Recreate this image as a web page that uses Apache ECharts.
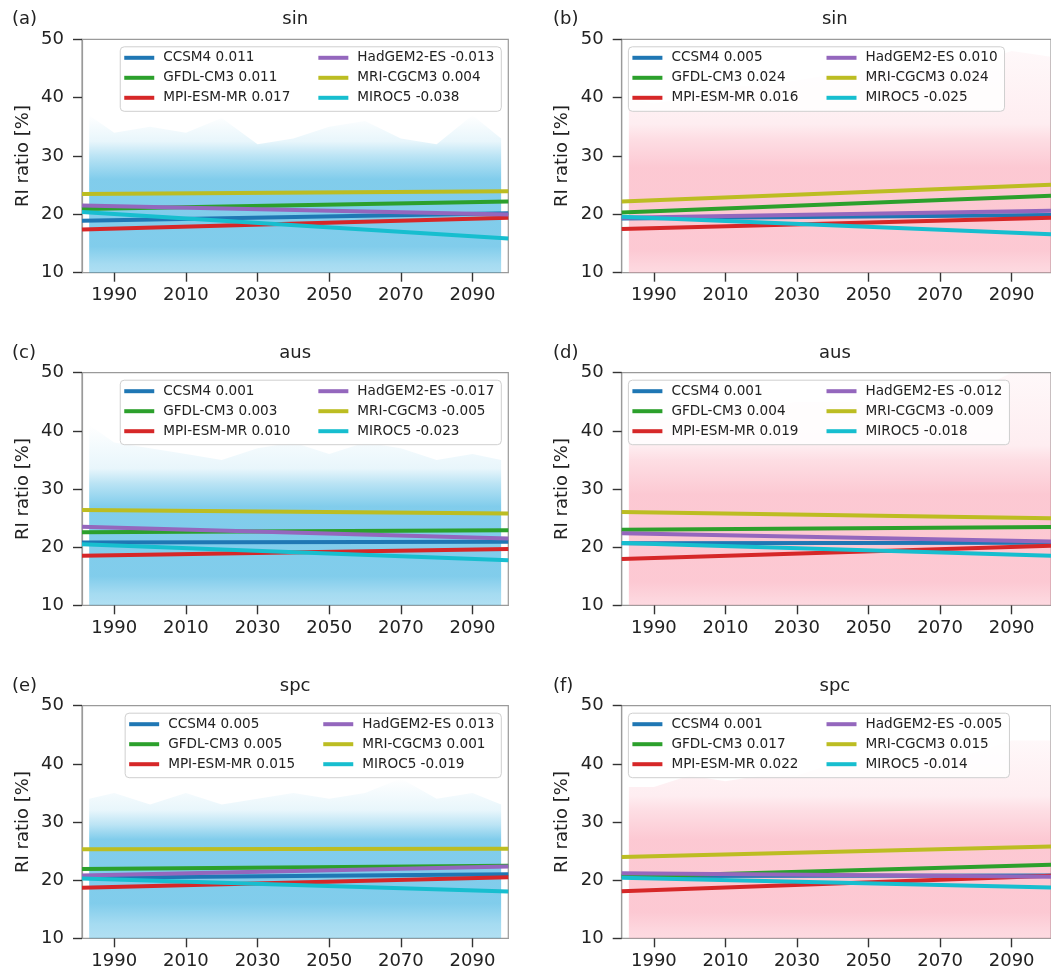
<!DOCTYPE html>
<html>
<head>
<meta charset="utf-8">
<script src="https://cdn.jsdelivr.net/npm/echarts@6/dist/echarts.min.js"></script>
<style>
  html, body { margin: 0; padding: 0; background: #ffffff; }
  #chart { width: 1051px; height: 973px; }
</style>
</head>
<body>
<div id="chart"></div>
<script>
// ---- models (plot order) and colours ----
const models = ['CCSM4', 'GFDL-CM3', 'MPI-ESM-MR', 'HadGEM2-ES', 'MRI-CGCM3', 'MIROC5'];
const modelColors = ['#1f77b4', '#2ca02c', '#d62728', '#9467bd', '#bcbd22', '#17becf'];

const panelLetters = ['(a)', '(b)', '(c)', '(d)', '(e)', '(f)'];
const regionNames = ['sin', 'sin', 'aus', 'aus', 'spc', 'spc'];

// ---- axes ----
const xStart = 1981;
const xEndLeft = 2100;
const xEndRight = 2101;
const xTickYears = [1990, 2010, 2030, 2050, 2070, 2090];
const yMin = 10, yMax = 50, yStep = 10;

// ---- linear trends: value at 1981 and slope [%/yr] (slope is the legend number) ----
const trendStartA = [18.9, 20.9, 17.4, 21.5, 23.5, 20.4];
const trendSlopeA = [0.011, 0.011, 0.017, -0.013, 0.004, -0.038];
const trendStartB = [19.3, 20.3, 17.5, 19.4, 22.2, 19.6];
const trendSlopeB = [0.005, 0.024, 0.016, 0.010, 0.024, -0.025];
const trendStartC = [20.8, 22.55, 18.5, 23.5, 26.4, 20.5];
const trendSlopeC = [0.001, 0.003, 0.010, -0.017, -0.005, -0.023];
const trendStartD = [20.65, 23.0, 17.95, 22.4, 26.05, 20.7];
const trendSlopeD = [0.001, 0.004, 0.019, -0.012, -0.009, -0.018];
const trendStartE = [20.4, 21.9, 18.7, 20.8, 25.3, 20.3];
const trendSlopeE = [0.005, 0.005, 0.015, 0.013, 0.001, -0.019];
const trendStartF = [20.7, 20.6, 18.1, 21.2, 24.0, 20.4];
const trendSlopeF = [0.001, 0.017, 0.022, -0.005, 0.015, -0.014];

// ---- ensemble members: upper reach of the spread through time ----
const envYearsLeft  = [1983, 1990, 2000, 2010, 2020, 2030, 2040, 2050, 2060, 2070, 2080, 2090, 2098];
const envYearsRight = [1983, 1990, 2000, 2010, 2020, 2030, 2040, 2050, 2060, 2070, 2080, 2090, 2101];
const envFloor = 8; // members run below the axis bottom

const envTopA = [37, 34, 35, 34, 36.5, 32, 33, 35, 36, 33, 32, 37, 33];
const envTopB = [40, 39, 40, 42, 42, 43, 44, 44, 44, 45, 46, 48, 47];
const envTopC = [41, 38, 37, 36, 35, 37, 38, 36, 38, 37, 35, 36, 35];
const envTopD = [42, 42, 43, 44, 44, 45, 45, 45, 46, 46, 47, 50, 50];
const envTopE = [34, 35, 33, 35, 33, 34, 35, 34, 35, 37.5, 34, 35, 33];
const envTopF = [36, 36, 38, 37, 38, 38, 40, 40, 40, 41, 42, 44, 44];

// density levels of the spread: [upper edge of busy part, dense core top, dense core bottom, lower edge of busy part]
const envLevelsA = [30, 26, 14.5, 11.5];
const envLevelsB = [33, 28, 14, 11];
const envLevelsC = [31, 27, 15, 12];
const envLevelsD = [35, 29, 14, 11];
const envLevelsE = [29.5, 27, 16, 12.5];
const envLevelsF = [32, 27, 14.5, 11.5];

// ---- assemble panels ----
const trendStarts = [trendStartA, trendStartB, trendStartC, trendStartD, trendStartE, trendStartF];
const trendSlopes = [trendSlopeA, trendSlopeB, trendSlopeC, trendSlopeD, trendSlopeE, trendSlopeF];
const envTops = [envTopA, envTopB, envTopC, envTopD, envTopE, envTopF];
const envLevels = [envLevelsA, envLevelsB, envLevelsC, envLevelsD, envLevelsE, envLevelsF];

// ---- layout ----
const FONT = '"DejaVu Sans", "Liberation Sans", sans-serif';
const TEXT = '#222222';
const colLeft = [82, 621.7];
const colWidth = [426.3, 430.3];
const rowTop = [39.3, 372.7, 705.7];
const rowHeight = [233.4, 232.6, 232.6];
const LEG_FONT = 13.6;

const measureCtx = document.createElement('canvas').getContext('2d');
measureCtx.font = LEG_FONT + 'px "DejaVu Sans"';
const textWidth = s => measureCtx.measureText(s).width;

// ensemble colour (left: sky blue, right: pink) and opacity at each density level
const bandRGB = ['30,165,220', '250,158,176'];
const bandAlpha = [
  { top: 0.0, fringe: 0.1, busy: 0.3, core: 0.56, low: 0.4, floor: 0.3 },
  { top: 0.07, fringe: 0.18, busy: 0.34, core: 0.56, low: 0.42, floor: 0.32 }
];

function bandRenderer(years, tops, levels, rgb, alpha) {
  const [busyTop, coreTop, coreBot, busyBot] = levels;
  const maxTop = Math.max(...tops);
  return function (params, api) {
    if (params.dataIndex !== 0) return null;
    const cs = params.coordSys;
    const pts = [];
    for (let i = 0; i < years.length; i++) pts.push(api.coord([years[i], tops[i]]));
    for (let i = years.length - 1; i >= 0; i--) pts.push(api.coord([years[i], envFloor]));
    const py = v => api.coord([years[0], v])[1];
    const y0 = py(maxTop), y1 = py(envFloor);
    const off = v => Math.min(1, Math.max(0, (py(v) - y0) / (y1 - y0)));
    const c = a => 'rgba(' + rgb + ',' + a + ')';
    const fill = new echarts.graphic.LinearGradient(0, y0, 0, y1, [
      { offset: 0, color: c(alpha.top) },
      { offset: off(busyTop + 2.5), color: c(alpha.fringe) },
      { offset: off(busyTop), color: c(alpha.busy) },
      { offset: off(coreTop), color: c(alpha.core) },
      { offset: off(coreBot), color: c(alpha.core) },
      { offset: off(busyBot), color: c(alpha.low) },
      { offset: 1, color: c(alpha.floor) }
    ], true);
    return {
      type: 'polygon',
      shape: { points: pts },
      style: { fill: fill },
      clipPath: { type: 'rect', shape: { x: cs.x, y: cs.y, width: cs.width, height: cs.height } }
    };
  };
}

const grids = [], xAxes = [], yAxes = [], series = [], legends = [], graphics = [];

for (let p = 0; p < 6; p++) {
  const row = Math.floor(p / 2), col = p % 2;
  const left = colLeft[col], top = rowTop[row], width = colWidth[col], height = rowHeight[row];
  const xEnd = col === 0 ? xEndLeft : xEndRight;
  const years = col === 0 ? envYearsLeft : envYearsRight;

  grids.push({
    left: left, top: top, width: width, height: height,
    show: true, borderColor: '#9a9a9a', borderWidth: 1.2, backgroundColor: 'transparent'
  });

  xAxes.push({
    gridIndex: p, type: 'value', min: xStart, max: xEnd,
    axisLine: { show: true, lineStyle: { color: '#9a9a9a', width: 1.2 } },
    axisTick: { show: true, customValues: xTickYears, length: 9, lineStyle: { color: '#333', width: 1.4 } },
    axisLabel: { show: true, customValues: xTickYears, margin: 14, fontSize: 18, fontFamily: FONT, color: TEXT,
                 formatter: v => String(v) },
    splitLine: { show: false }
  });

  yAxes.push({
    gridIndex: p, type: 'value', min: yMin, max: yMax, interval: yStep,
    name: 'RI ratio [%]', nameLocation: 'middle', nameGap: 50,
    nameTextStyle: { fontSize: 18, fontFamily: FONT, color: TEXT },
    axisLine: { show: true, lineStyle: { color: '#9a9a9a', width: 1.2 } },
    axisTick: { show: true, length: 9, lineStyle: { color: '#333', width: 1.4 } },
    axisLabel: { margin: 18, fontSize: 18, fontFamily: FONT, color: TEXT, formatter: v => String(v) },
    splitLine: { show: false }
  });

  // ensemble spread
  series.push({
    type: 'custom', xAxisIndex: p, yAxisIndex: p, z: 1, silent: true,
    renderItem: bandRenderer(years, envTops[p], envLevels[p], bandRGB[col], bandAlpha[col]),
    data: years.map((y, i) => [y, envTops[p][i]])
  });

  // trend lines
  const names = [];
  for (let m = 0; m < models.length; m++) {
    const a = trendStarts[p][m], s = trendSlopes[p][m];
    const name = models[m] + ' ' + s.toFixed(3);
    names.push(name);
    series.push({
      type: 'line', name: name, xAxisIndex: p, yAxisIndex: p, z: 2 + m * 0.01,
      showSymbol: false, symbol: 'none', silent: true, animation: false,
      color: modelColors[m],
      lineStyle: { width: 4, color: modelColors[m], cap: 'butt' },
      data: [[xStart, a], [xEnd, a + s * (xEnd - xStart)]]
    });
  }

  // legend: two columns of three, framed
  const col1 = names.slice(0, 3), col2 = names.slice(3, 6);
  const w1 = Math.max(...col1.map(textWidth));
  const w2 = Math.max(...col2.map(textWidth));
  const frameW = 4 + 39 + w1 + 28 + 39 + w2 + 7;
  const frameLeft = col === 0 ? (left + width - 7 - frameW) : (left + 6.7);
  const frameTop = top + 7.5;
  graphics.push({
    type: 'rect', z: 3, silent: true,
    shape: { x: frameLeft, y: frameTop, width: frameW, height: 64.5, r: 4 },
    style: { fill: 'rgba(255,255,255,0.82)', stroke: '#cfcfcf', lineWidth: 1 }
  });
  [[col1, frameLeft + 4], [col2, frameLeft + 4 + 39 + w1 + 28]].forEach(([items, lx]) => {
    legends.push({
      orient: 'vertical', left: lx, top: top + 11.5, padding: 0, itemGap: 6,
      itemWidth: 30, itemHeight: 4, icon: 'rect', selectedMode: false, z: 5,
      data: items,
      textStyle: { fontFamily: FONT, fontSize: LEG_FONT, color: TEXT, lineHeight: 14, padding: [0, 0, 0, 4] }
    });
  });

  // panel letter and title
  graphics.push({
    type: 'text', z: 6, silent: true,
    style: { text: panelLetters[p], x: col === 0 ? 12 : 553, y: top - 19.5,
             verticalAlign: 'middle', align: 'left', font: '18px ' + FONT, fill: TEXT }
  });
  graphics.push({
    type: 'text', z: 6, silent: true,
    style: { text: regionNames[p], x: left + 426.3 / 2, y: top - 19.5,
             verticalAlign: 'middle', align: 'center', font: '18px ' + FONT, fill: TEXT }
  });
}

const chart = echarts.init(document.getElementById('chart'), null, { renderer: 'canvas' });
chart.setOption({
  animation: false,
  backgroundColor: '#ffffff',
  textStyle: { fontFamily: FONT },
  grid: grids,
  xAxis: xAxes,
  yAxis: yAxes,
  legend: legends,
  series: series,
  graphic: { elements: graphics }
});
</script>
</body>
</html>
